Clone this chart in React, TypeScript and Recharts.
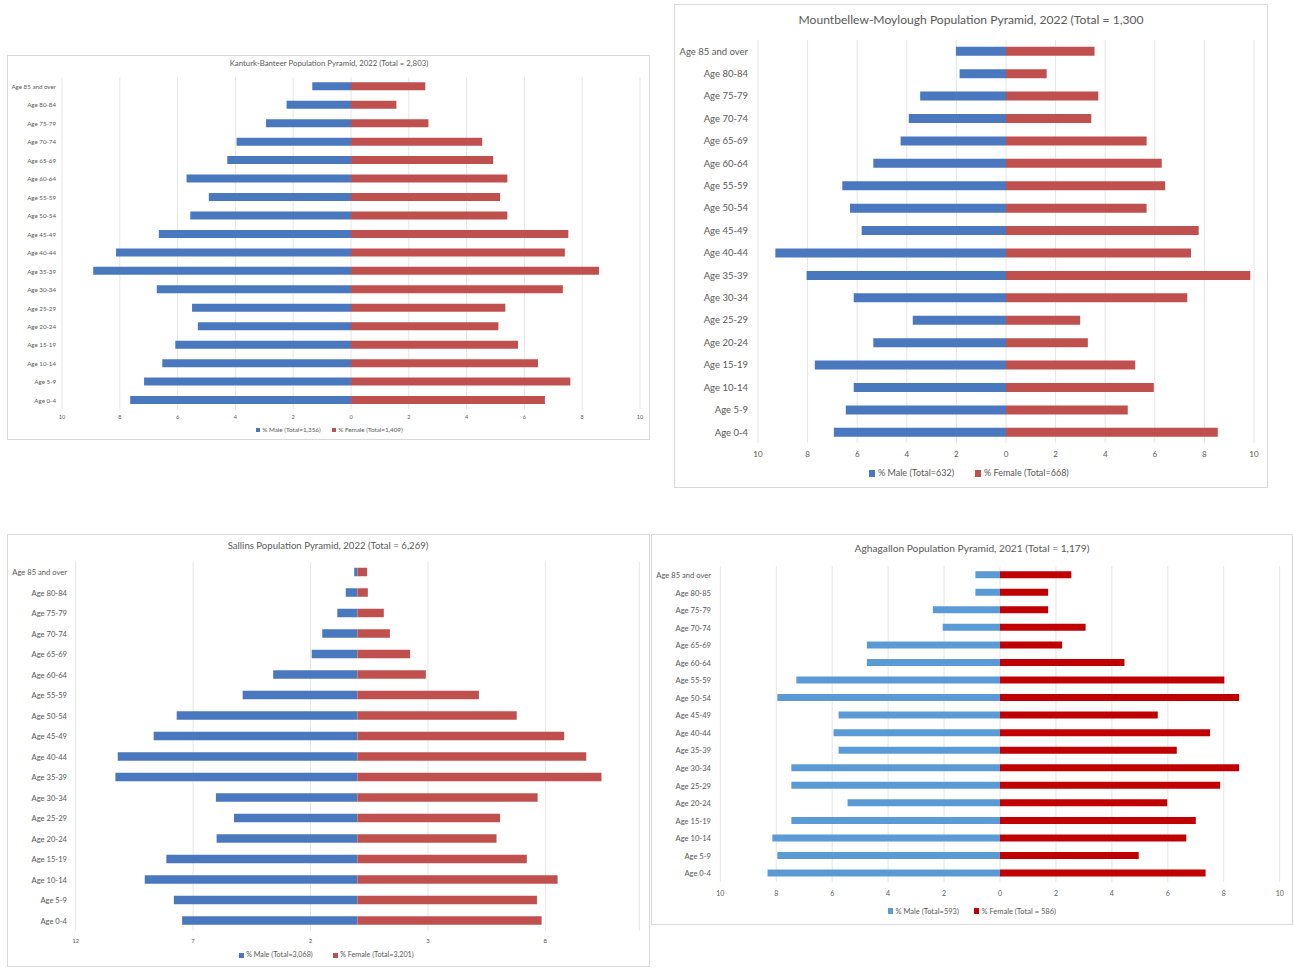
import { BarChart, Bar, XAxis, YAxis, CartesianGrid } from "recharts";

// ── Data ──────────────────────────────────────────────────────────────────────

const AGES = [
  "Age 85 and over", "Age 80-84", "Age 75-79", "Age 70-74", "Age 65-69",
  "Age 60-64", "Age 55-59", "Age 50-54", "Age 45-49", "Age 40-44",
  "Age 35-39", "Age 30-34", "Age 25-29", "Age 20-24", "Age 15-19",
  "Age 10-14", "Age 5-9", "Age 0-4",
];
const AGES_AGHAGALLON = [
  "Age 85 and over", "Age 80-85", "Age 75-79", "Age 70-74", "Age 65-69",
  "Age 60-64", "Age 55-59", "Age 50-54", "Age 45-49", "Age 40-44",
  "Age 35-39", "Age 30-34", "Age 25-29", "Age 20-24", "Age 15-19",
  "Age 10-14", "Age 5-9", "Age 0-4",
];

const KANTURK_MALE = [1.34, 2.23, 2.94, 3.96, 4.28, 5.69, 4.92, 5.56, 6.65, 8.13, 8.92, 6.72, 5.5, 5.3, 6.08, 6.53, 7.16, 7.64];
const KANTURK_FEMALE = [2.57, 1.57, 2.68, 4.54, 4.92, 5.41, 5.16, 5.41, 7.52, 7.4, 8.58, 7.33, 5.34, 5.1, 5.78, 6.47, 7.59, 6.71];

const MOUNTBELLEW_MALE = [2.02, 1.87, 3.46, 3.92, 4.25, 5.35, 6.6, 6.29, 5.82, 9.3, 8.04, 6.14, 3.76, 5.35, 7.71, 6.14, 6.46, 6.94];
const MOUNTBELLEW_FEMALE = [3.57, 1.64, 3.72, 3.44, 5.67, 6.28, 6.42, 5.67, 7.77, 7.46, 9.85, 7.31, 2.99, 3.3, 5.21, 5.96, 4.91, 8.54];

const SALLINS_MALE = [0.14, 0.5, 0.86, 1.5, 1.95, 3.59, 4.89, 7.7, 8.68, 10.21, 10.31, 6.03, 5.26, 6.0, 8.14, 9.06, 7.82, 7.47];
const SALLINS_FEMALE = [0.41, 0.44, 1.12, 1.38, 2.24, 2.91, 5.17, 6.78, 8.8, 9.74, 10.39, 7.67, 6.07, 5.92, 7.21, 8.52, 7.64, 7.84];

const AGHAGALLON_MALE = [0.88, 0.88, 2.4, 2.05, 4.76, 4.76, 7.28, 7.96, 5.77, 5.95, 5.77, 7.46, 7.46, 5.45, 7.46, 8.14, 7.96, 8.31];
const AGHAGALLON_FEMALE = [2.55, 1.72, 1.72, 3.06, 2.22, 4.45, 8.02, 8.55, 5.64, 7.51, 6.32, 8.55, 7.87, 5.98, 7.0, 6.66, 4.96, 7.35];

const TICKS_TEN = [-10, -8, -6, -4, -2, 0, 2, 4, 6, 8, 10];
const TICKS_SALLINS = [-12, -7, -2, 3, 8];

// ── Styles ────────────────────────────────────────────────────────────────────

const FONT = "Lato, 'Open Sans', sans-serif";
const TEXT = "#595959";

interface Rect { x: number; y: number; w: number; h: number }

interface PyramidProps {
  box: Rect;
  plotLeft: number;
  plotRight: number;
  firstRow: number;
  lastRow: number;
  title: string;
  titleX: number;
  titleY: number;
  titleSize: number;
  ages: string[];
  male: number[];
  female: number[];
  domain: [number, number];
  ticks: number[];
  catRight: number;
  catSize: number;
  tickY: number;
  tickSize: number;
  barSize: number;
  maleColor: string;
  femaleColor: string;
  gridColor: string;
  legendY: number;
  legendSize: number;
  maleLegend: string;
  femaleLegend: string;
  maleLegendX: number;
  femaleLegendX: number;
}

function LegendItem({ x, y, size, color, label }: { x: number; y: number; size: number; color: string; label: string }) {
  return (
    <div
      style={{
        position: "absolute",
        left: x,
        top: y - size * 0.6,
        height: size * 1.2,
        lineHeight: `${size * 1.2}px`,
        fontSize: size,
        fontFamily: FONT,
        color: TEXT,
        whiteSpace: "nowrap",
        display: "flex",
        alignItems: "center",
      }}
    >
      <span
        style={{
          display: "inline-block",
          width: size * 0.7,
          height: size * 0.7,
          background: color,
          marginRight: size * 0.3,
        }}
      />
      {label}
    </div>
  );
}

function Pyramid(p: PyramidProps) {
  const { box } = p;
  const data = p.ages.map((age, i) => ({ age, male: -p.male[i], female: p.female[i] }));
  const band = (p.lastRow - p.firstRow) / (p.ages.length - 1);
  const plotTop = p.firstRow - band / 2;
  const plotBottom = p.lastRow + band / 2;
  const axisH = 14;
  const margin = {
    top: plotTop - box.y,
    right: box.x + box.w - p.plotRight,
    left: 0,
    bottom: box.y + box.h - plotBottom - axisH,
  };

  return (
    <>
      <div
        style={{
          position: "absolute",
          left: box.x,
          top: box.y,
          width: box.w,
          height: box.h,
          border: "1px solid #d9d9d9",
          boxSizing: "border-box",
          background: "#fff",
        }}
      />
      <div
        style={{
          position: "absolute",
          left: p.titleX - 350,
          width: 700,
          top: p.titleY - p.titleSize * 0.6,
          lineHeight: `${p.titleSize * 1.2}px`,
          fontSize: p.titleSize,
          fontFamily: FONT,
          color: TEXT,
          textAlign: "center",
          whiteSpace: "nowrap",
        }}
      >
        {p.title}
      </div>
      <div style={{ position: "absolute", left: box.x, top: box.y }}>
        <BarChart
          width={box.w}
          height={box.h}
          data={data}
          layout="vertical"
          stackOffset="sign"
          margin={margin}
        >
          <CartesianGrid horizontal={false} stroke={p.gridColor} />
          <XAxis
            type="number"
            domain={p.domain}
            ticks={p.ticks}
            interval={0}
            height={axisH}
            axisLine={false}
            tickLine={false}
            tick={({ x, payload }: any) => (
              <text
                x={x}
                y={p.tickY - box.y}
                textAnchor="middle"
                dominantBaseline="central"
                fontSize={p.tickSize}
                fontFamily={FONT}
                fill={TEXT}
              >
                {Math.abs(payload.value)}
              </text>
            )}
          />
          <YAxis
            type="category"
            dataKey="age"
            width={p.plotLeft - box.x}
            interval={0}
            axisLine={false}
            tickLine={false}
            tick={({ y, payload }: any) => (
              <text
                x={p.catRight - box.x}
                y={y}
                textAnchor="end"
                dominantBaseline="central"
                fontSize={p.catSize}
                fontFamily={FONT}
                fill={TEXT}
              >
                {payload.value}
              </text>
            )}
          />
          <Bar dataKey="male" stackId="a" fill={p.maleColor} barSize={p.barSize} isAnimationActive={false} />
          <Bar dataKey="female" stackId="a" fill={p.femaleColor} barSize={p.barSize} isAnimationActive={false} />
        </BarChart>
      </div>
      <LegendItem x={p.maleLegendX} y={p.legendY} size={p.legendSize} color={p.maleColor} label={p.maleLegend} />
      <LegendItem x={p.femaleLegendX} y={p.legendY} size={p.legendSize} color={p.femaleColor} label={p.femaleLegend} />
    </>
  );
}

export default function App() {
  return (
    <div style={{ position: "absolute", left: 0, top: 0, width: 1293, height: 968, background: "#fff", overflow: "hidden" }}>
      <Pyramid
        box={{ x: 7, y: 55, w: 643, h: 385 }}
        plotLeft={62}
        plotRight={640}
        firstRow={86.5}
        lastRow={400.3}
        title="Kanturk-Banteer Population Pyramid, 2022 (Total = 2,803)"
        titleX={329}
        titleY={64}
        titleSize={7.8}
        ages={AGES}
        male={KANTURK_MALE}
        female={KANTURK_FEMALE}
        domain={[-10, 10]}
        ticks={TICKS_TEN}
        catRight={56}
        catSize={6.2}
        tickY={416.5}
        tickSize={5.5}
        barSize={8}
        maleColor="#4a78be"
        femaleColor="#c0504d"
        gridColor="#e6e6e6"
        legendY={430}
        legendSize={6.3}
        maleLegend="% Male (Total=1,356)"
        femaleLegend="% Female (Total=1,409)"
        maleLegendX={256}
        femaleLegendX={332}
      />
      <Pyramid
        box={{ x: 674, y: 4, w: 594, h: 484 }}
        plotLeft={758}
        plotRight={1254}
        firstRow={51}
        lastRow={432}
        title="Mountbellew-Moylough Population Pyramid, 2022 (Total = 1,300"
        titleX={971}
        titleY={20}
        titleSize={12.1}
        ages={AGES}
        male={MOUNTBELLEW_MALE}
        female={MOUNTBELLEW_FEMALE}
        domain={[-10, 10]}
        ticks={TICKS_TEN}
        catRight={748}
        catSize={9.5}
        tickY={453.5}
        tickSize={8}
        barSize={9}
        maleColor="#4a78be"
        femaleColor="#c0504d"
        gridColor="#e6e6e6"
        legendY={473.5}
        legendSize={9}
        maleLegend="% Male (Total=632)"
        femaleLegend="% Female (Total=668)"
        maleLegendX={869}
        femaleLegendX={975}
      />
      <Pyramid
        box={{ x: 7, y: 534, w: 643, h: 433 }}
        plotLeft={75.7}
        plotRight={639.3}
        firstRow={572}
        lastRow={920.5}
        title="Sallins Population Pyramid, 2022 (Total = 6,269)"
        titleX={328}
        titleY={546}
        titleSize={9.6}
        ages={AGES}
        male={SALLINS_MALE}
        female={SALLINS_FEMALE}
        domain={[-12, 12]}
        ticks={TICKS_SALLINS}
        catRight={67}
        catSize={7.6}
        tickY={940}
        tickSize={6}
        barSize={8.5}
        maleColor="#4a78be"
        femaleColor="#c0504d"
        gridColor="#e6e6e6"
        legendY={955.5}
        legendSize={7.2}
        maleLegend="% Male (Total=3,068)"
        femaleLegend="% Female (Total=3,201)"
        maleLegendX={239}
        femaleLegendX={333}
      />
      <Pyramid
        box={{ x: 651, y: 534, w: 642, h: 391 }}
        plotLeft={720.3}
        plotRight={1279.7}
        firstRow={575}
        lastRow={873.3}
        title="Aghagallon Population Pyramid, 2021 (Total = 1,179)"
        titleX={972}
        titleY={548}
        titleSize={10.2}
        ages={AGES_AGHAGALLON}
        male={AGHAGALLON_MALE}
        female={AGHAGALLON_FEMALE}
        domain={[-10, 10]}
        ticks={TICKS_TEN}
        catRight={711}
        catSize={7.6}
        tickY={892.7}
        tickSize={7}
        barSize={7}
        maleColor="#5b9bd5"
        femaleColor="#c00000"
        gridColor="#e6e6e6"
        legendY={911}
        legendSize={7.5}
        maleLegend="% Male (Total=593)"
        femaleLegend="% Female (Total = 586)"
        maleLegendX={888}
        femaleLegendX={974}
      />
    </div>
  );
}
